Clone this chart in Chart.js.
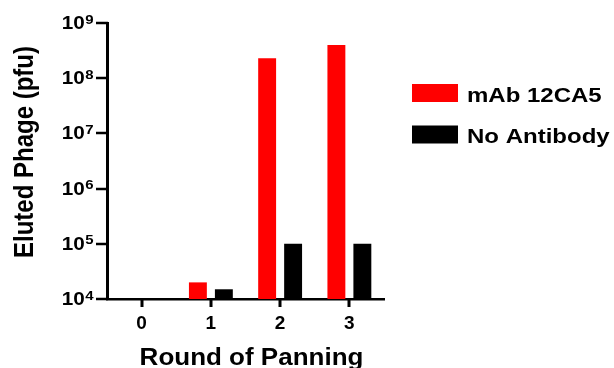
<!DOCTYPE html>
<html>
<head>
<meta charset="utf-8">
<script src="https://cdn.jsdelivr.net/npm/chart.js@4/dist/chart.umd.min.js"></script>
<style>
  html, body { margin: 0; padding: 0; background: #fff; }
  #wrap { width: 614px; height: 368px; }
</style>
</head>
<body>
<div id="wrap"><canvas id="c" width="614" height="368"></canvas></div>
<script>
// Panning rounds and eluted phage titres (pfu)
const rounds = ['0', '1', '2', '3'];
const mAb12CA5 = [1e4, 2e4, 2.3e8, 4e8];
const noAntibody = [1e4, 1.5e4, 1e5, 1e5];
const seriesNames = ['mAb 12CA5', 'No Antibody'];
const decadeExponents = [4, 5, 6, 7, 8, 9];

const FONT = "'Liberation Sans', Arial, Helvetica, sans-serif";
const SX = 1.15; // text is drawn slightly wide

function wideText(ctx, text, x, y, size, sx, align) {
  ctx.save();
  ctx.font = 'bold ' + size + 'px ' + FONT;
  ctx.fillStyle = '#000';
  ctx.textBaseline = 'alphabetic';
  const w = ctx.measureText(text).width * sx;
  let x0 = x;
  if (align === 'center') x0 = x - w / 2;
  else if (align === 'right') x0 = x - w;
  ctx.translate(x0, y);
  ctx.scale(sx, 1);
  ctx.textAlign = 'left';
  ctx.fillText(text, 0, 0);
  ctx.restore();
  return w;
}

// Axis tick marks, decade labels, axis titles and the legend
const decorations = {
  id: 'decorations',
  afterDraw(chart) {
    const ctx = chart.ctx;
    const y = chart.scales.y;
    const x = chart.scales.x;
    const area = chart.chartArea;

    ctx.save();
    ctx.fillStyle = '#000';
    // outward tick marks on the x axis at each round
    rounds.forEach((r, i) => {
      const px = x.getPixelForValue(i);
      ctx.fillRect(Math.round(px) - 1.5, area.bottom, 3, 8);
    });
    // outward tick marks on the y axis at each decade
    decadeExponents.forEach(e => {
      const py = y.getPixelForValue(Math.pow(10, e));
      ctx.fillRect(area.left - 11, Math.round(py) - 1.25, 12, 2.5);
    });
    ctx.restore();

    // decade labels: 10 with a raised exponent
    decadeExponents.forEach(e => {
      const py = y.getPixelForValue(Math.pow(10, e));
      ctx.save();
      ctx.font = 'bold 13px ' + FONT;
      const supW = ctx.measureText(String(e)).width * SX;
      ctx.restore();
      const right = area.left - 13.5;
      wideText(ctx, String(e), right, py + 0.5, 13, SX, 'right');
      wideText(ctx, '10', right - supW - 0.5, py + 6, 18, SX, 'right');
    });

    // y title
    ctx.save();
    ctx.font = 'bold 24px ' + FONT;
    ctx.fillStyle = '#000';
    ctx.translate(33, 152);
    ctx.rotate(-Math.PI / 2);
    ctx.scale(1, SX);
    ctx.textAlign = 'center';
    ctx.textBaseline = 'alphabetic';
    ctx.fillText('Eluted Phage (pfu)', 0, 0);
    ctx.restore();

    // x title
    wideText(ctx, 'Round of Panning', (area.left + area.right) / 2 + 6, 365, 23, 1.13, 'center');

    // legend
    const rows = [93, 134.5];
    chart.data.datasets.forEach((ds, i) => {
      const cy = rows[i];
      ctx.save();
      ctx.fillStyle = ds.backgroundColor;
      ctx.fillRect(412, cy - 9, 46, 18);
      ctx.restore();
      wideText(ctx, ds.label, 467, cy + 8.5, 20, 1.2, 'left');
    });
  }
};

new Chart(document.getElementById('c'), {
  type: 'bar',
  data: {
    labels: rounds,
    datasets: [
      { label: seriesNames[0], data: mAb12CA5, backgroundColor: '#ff0000', borderWidth: 0 },
      { label: seriesNames[1], data: noAntibody, backgroundColor: '#000000', borderWidth: 0 }
    ]
  },
  options: {
    responsive: false,
    devicePixelRatio: 1,
    animation: false,
    categoryPercentage: 0.75,
    barPercentage: 0.69,
    layout: { padding: { left: 0, top: 23, right: 230, bottom: 0 } },
    plugins: { legend: { display: false }, tooltip: { enabled: false } },
    scales: {
      x: {
        offset: true,
        afterFit(s) { s.height = 69; },
        grid: { display: false },
        border: { display: true, color: '#000', width: 2.5 },
        ticks: { color: '#000', padding: 5, font: { family: FONT, size: 19, weight: 'bold' } }
      },
      y: {
        type: 'logarithmic',
        min: 1e4,
        max: 1e9,
        afterFit(s) { s.width = 107; },
        afterBuildTicks(s) { s.ticks = decadeExponents.map(e => ({ value: Math.pow(10, e) })); },
        grid: { display: false },
        border: { display: true, color: '#000', width: 3 },
        ticks: { display: false }
      }
    }
  },
  plugins: [decorations]
});
</script>
</body>
</html>
